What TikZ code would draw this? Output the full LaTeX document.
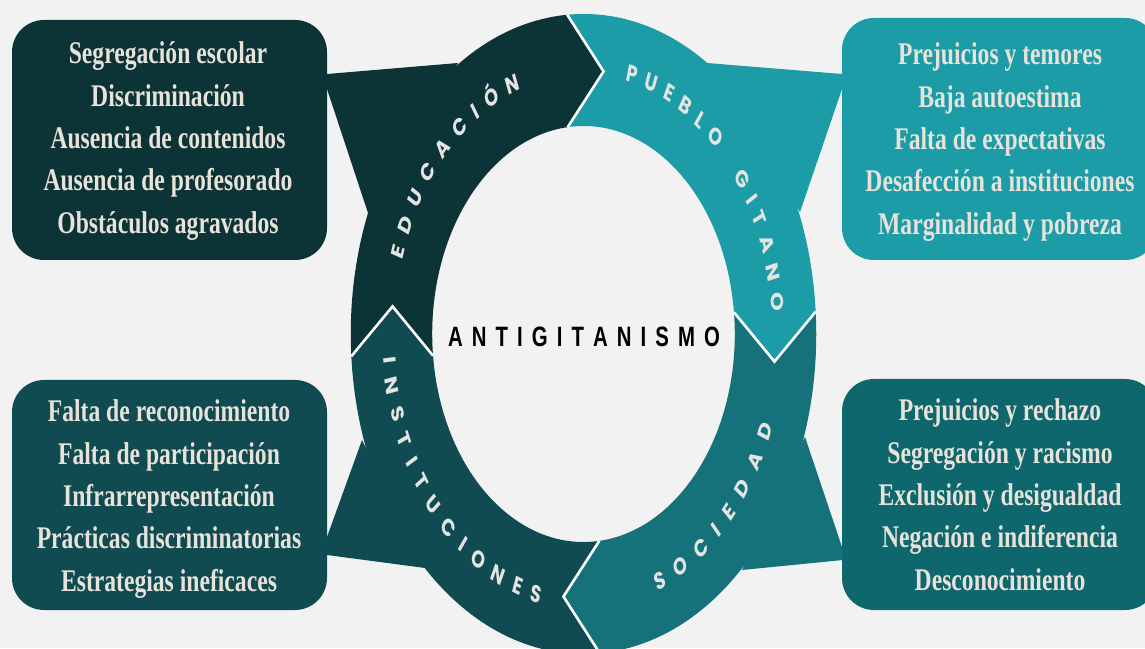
\documentclass[tikz,border=0pt]{standalone}
\usepackage{fontspec}
\newfontfamily\boxfont{Liberation Serif}
\newfontfamily\ringfont{Poppins}
\newfontfamily\antifont{Liberation Sans}
\definecolor{bg}{HTML}{F2F2F2}
\definecolor{cEdu}{HTML}{0C3336}
\definecolor{cPue}{HTML}{1B9CA6}
\definecolor{cSoc}{HTML}{15717A}
\definecolor{cSocBox}{HTML}{0F676E}
\definecolor{cIns}{HTML}{0F4B50}
\definecolor{txtLight}{HTML}{E8E3DA}
\definecolor{ringTxt}{HTML}{E4E4E4}
\newdimen\chw
\newdimen\ringlen
\newcommand\ringstyle{\ringfont\bfseries\fontsize{24}{24}\selectfont}
\newcommand\rsp{\kern14pt\relax}
\newcommand\tk{\kern12.5pt\relax}
\newcommand\Rt{268}
\newcommand\measurech[1]{\pgfinterruptpicture\setbox0=\hbox{\ringstyle#1}\global\chw=\wd0\relax\endpgfinterruptpicture}
\newcommand\ringword[5]{%
  \global\ringlen=0pt
  \foreach \ch [count=\ni] in {#5} {\measurech{\ch}\global\advance\ringlen by \chw\relax\xdef\ringn{\ni}}%
  \pgfmathsetmacro\spanlen{\ringlen + (\ringn-1)*#3}%
  \pgfmathsetmacro\startang{#1 - (#2)*\spanlen/2/\Rt*180/pi}%
  \xdef\curang{\startang}%
  \foreach \ch [count=\ni] in {#5} {%
    \measurech{\ch}%
    \pgfmathsetmacro\cang{\curang + (#2)*(\chw/2)/\Rt*180/pi}%
    \pgfmathsetmacro\rot{\cang + (#2)*90}%
    \node[ringlbl, rotate=\rot] (#4\ni) at (\cang:\Rt) {\ch};
    \pgfmathsetmacro\nxt{\curang + (#2)*(\chw + #3)/\Rt*180/pi}%
    \xdef\curang{\nxt}%
  }%
}
\begin{document}
\begin{tikzpicture}[x=1pt,y=1pt,
  box/.style={rounded corners=32pt, minimum width=315pt, inner sep=0pt, draw=none},
  boxtxt/.style={font=\boxfont\bfseries\fontsize{31.5}{31.5}\selectfont, text=txtLight, xscale=0.75, anchor=base, inner sep=0pt},
  ringlbl/.style={inner sep=0pt, text=ringTxt, font=\ringstyle, text height=16.7pt, text depth=0pt, anchor=center},
  sep/.style={draw=white, line width=2.6pt, line join=miter}]
\fill[bg] (0,0) rectangle (1145,648);
\useasboundingbox (0,0) rectangle (1145,648);
\clip (0,0) rectangle (1145,648);
% wings
\fill[cEdu] (458,585) -- (327,574) -- (327,559) -- (368,435) -- cycle;
\fill[cPue] (707,585) -- (842,574) -- (842,559) -- (800,436) -- cycle;
\fill[cIns] (362,208) -- (327,111) -- (327,93) -- (425,80) -- cycle;
\fill[cSoc] (805,211) -- (843,98) -- (843,88) -- (742,78) -- cycle;
% boxes
\node[box, fill=cEdu, minimum height=240pt] (boxTL) at (169.5,508) {};
\node[box, fill=cPue, minimum height=242pt] (boxTR) at (999.5,509) {};
\node[box, fill=cIns, minimum height=230pt] (boxBL) at (169.5,153) {};
\node[box, fill=cSocBox, minimum height=231pt] (boxBR) at (999.5,153.5) {};
% ring
\begin{scope}[shift={(583.5,314)}, xscale=0.7273]
  \fill[cEdu] (184:320) arc[start angle=184,end angle=94,radius=320] -- (84:264) -- (96:208) arc[start angle=96,end angle=186,radius=208] -- (174:264) -- cycle;
  \fill[cPue] (94:320) arc[start angle=94,end angle=4,radius=320] -- (-6:264) -- (6:208) arc[start angle=6,end angle=96,radius=208] -- (84:264) -- cycle;
  \fill[cSoc] (4:320) arc[start angle=4,end angle=-86,radius=320] -- (-96:264) -- (-84:208) arc[start angle=-84,end angle=6,radius=208] -- (-6:264) -- cycle;
  \fill[cIns] (-86:320) arc[start angle=-86,end angle=-176,radius=320] -- (-186:264) -- (-174:208) arc[start angle=-174,end angle=-84,radius=208] -- (-96:264) -- cycle;
  \draw[sep] (94:320) -- (84:264) -- (96:208);
  \draw[sep] (4:320) -- (-6:264) -- (6:208);
  \draw[sep] (-86:320) -- (-96:264) -- (-84:208);
  \draw[sep] (-176:320) -- (-186:264) -- (-174:208);
  \begin{scope}[transform shape]
    \ringword{136.5}{-1}{13.4}{edu}{E,D,U,C,A,C,I,Ó,N}
    \ringword{41}{-1}{11.6}{pue}{P,U,E,B,L,O,\rsp,G,I,T,A,N,O}
    \ringword{-44}{1}{15}{soc}{S,O,C,I,E,D,A,D}
    \ringword{221.2}{1}{13.2}{ins}{I,N,S,T,I,T,U,C,I,O,N,E,S}
  \end{scope}
\end{scope}
\node[font=\antifont\bfseries\fontsize{28}{28}\selectfont, xscale=0.7273, inner sep=0pt, text height=20pt, text depth=0pt] (anti) at (584,311) {A\tk N\tk T\tk I\tk G\tk I\tk T\tk A\tk N\tk I\tk S\tk M\tk O};
% box texts
\foreach \t [count=\i] in {Segregación escolar, Discriminación, Ausencia de contenidos, Ausencia de profesorado, Obstáculos agravados}
  \node[boxtxt] (tl\i) at (168, {584-42.3*(\i-1)}) {\t};
\foreach \t [count=\i] in {Prejuicios y temores, Baja autoestima, Falta de expectativas, Desafección a instituciones, Marginalidad y pobreza}
  \node[boxtxt] (tr\i) at (1000, {583-42.3*(\i-1)}) {\t};
\foreach \t [count=\i] in {Falta de reconocimiento, Falta de participación, Infrarrepresentación, Prácticas discriminatorias, Estrategias ineficaces}
  \node[boxtxt] (bl\i) at (169, {226-42.3*(\i-1)}) {\t};
\foreach \t [count=\i] in {Prejuicios y rechazo, Segregación y racismo, Exclusión y desigualdad, Negación e indiferencia, Desconocimiento}
  \node[boxtxt] (br\i) at (1000, {227-42.3*(\i-1)}) {\t};
\end{tikzpicture}
\end{document}
